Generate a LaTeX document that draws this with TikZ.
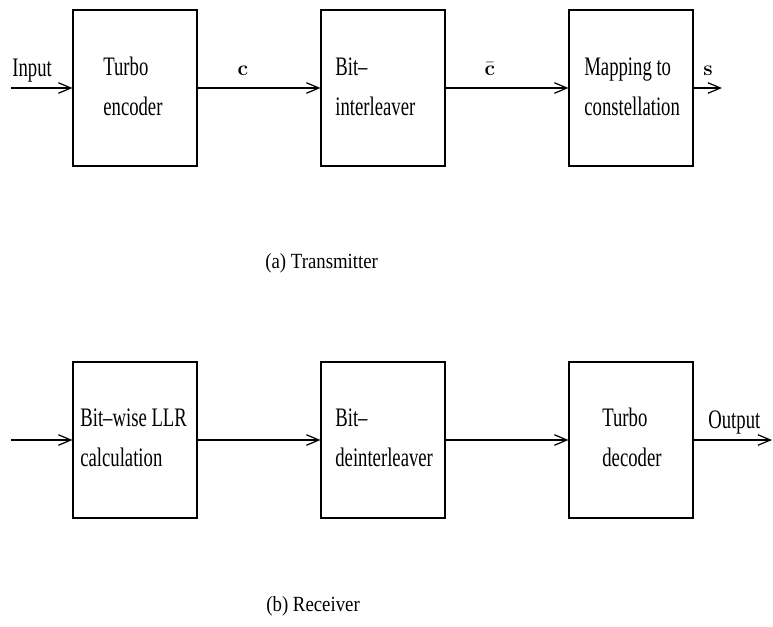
\documentclass[tikz,border=0pt]{standalone}
\usepackage[no-math]{fontspec}
\usepackage{amsmath,amssymb}
\usepackage{tikz}
\usetikzlibrary{arrows.meta,positioning}
\newfontfamily\blockfont[FakeStretch=0.70,Ligatures=TeX]{Liberation Serif}
\newfontfamily\capfont[FakeStretch=0.87,Ligatures=TeX]{Liberation Serif}
\newcommand{\blocksize}{\blockfont\fontsize{15.2}{22.7}\selectfont}
\newcommand{\capsize}{\capfont\fontsize{12.3}{15}\selectfont}

\begin{document}
\begin{tikzpicture}[x=0.02cm,y=-0.02cm,>={Straight Barb[length=2.5mm,width=2.1mm]},
  blk/.style={draw,line width=0.6pt,minimum width=2.48cm,minimum height=3.12cm,inner sep=0pt},
  txt/.style={font=\blocksize,align=left,anchor=base west,inner sep=0pt},
  sym/.style={font=\fontsize{13}{15}\selectfont,anchor=base,inner sep=0pt},
  captxt/.style={font=\capsize,anchor=base west,inner sep=0pt},
  link/.style={->,line width=0.7pt}]
\useasboundingbox (0,0) rectangle (773,626);
% transmitter
\node[blk] (enc) at (135,88) {};
\node[blk] (intl) at (383,88) {};
\node[blk] (map) at (631,88) {};
\node[txt] (enctxt) at (103,115) {Turbo\\encoder};
\node[txt] (intltxt) at (335,115) {Bit--\\interleaver};
\node[txt] (maptxt) at (584,115) {Mapping to\\constellation};
\coordinate (in) at (11,88); \coordinate (s) at (722,88);
\draw[link] (in) -- (enc.west);
\draw[link] (enc.east) -- (intl.west);
\draw[link] (intl.east) -- (map.west);
\draw[link] (map.east) -- (s);
\node[txt] (inlbl) at (12,76) {Input};
\node[sym] (clbl) at (243,75) {$\mathbf{c}$};
\node[sym] (cbarlbl) at (490,75) {$\bar{\mathbf{c}}$};
\node[sym] (slbl) at (708,75) {$\mathbf{s}$};
\node[captxt] (capa) at (265,268) {(a) Transmitter};
% receiver
\node[blk] (llr) at (135,440) {};
\node[blk] (deintl) at (383,440) {};
\node[blk] (dec) at (631,440) {};
\node[txt] (llrtxt) at (80,466) {Bit--wise LLR\\calculation};
\node[txt] (deintltxt) at (335,466) {Bit--\\deinterleaver};
\node[txt] (dectxt) at (602,466) {Turbo\\decoder};
\coordinate (rx) at (11,440); \coordinate (out) at (772,440);
\draw[link] (rx) -- (llr.west);
\draw[link] (llr.east) -- (deintl.west);
\draw[link] (deintl.east) -- (dec.west);
\draw[link] (dec.east) -- (out);
\node[txt] (outlbl) at (708,428) {Output};
\node[captxt] (capb) at (266,611) {(b) Receiver};
\end{tikzpicture}
\end{document}
